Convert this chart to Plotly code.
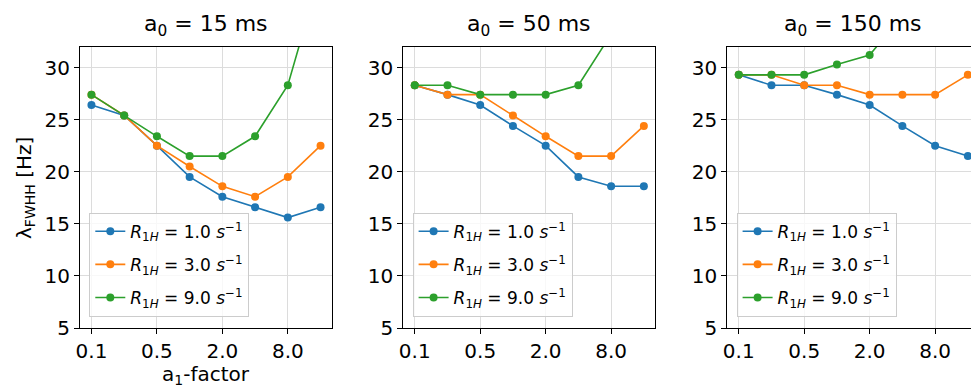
import math
import plotly.graph_objects as go

# ---------------- data ----------------
a1_factor = [0.125, 0.25, 0.5, 1.0, 2.0, 4.0, 8.0, 16.0]
tick_vals = [0.125, 0.5, 2.0, 8.0]
tick_text = ["0.1", "0.5", "2.0", "8.0"]
y_ticks = [5, 10, 15, 20, 25, 30]
a0_labels = ["15", "50", "150"]
r1h_labels = ["1.0", "3.0", "9.0"]

lw_15_r1 = [26.4, 25.4, 22.5, 19.5, 17.6, 16.6, 15.6, 16.6]
lw_15_r3 = [27.4, 25.4, 22.5, 20.5, 18.6, 17.6, 19.5, 22.5]
lw_15_r9 = [27.4, 25.4, 23.4, 21.5, 21.5, 23.4, 28.3, 39.2]
lw_50_r1 = [28.3, 27.4, 26.4, 24.4, 22.5, 19.5, 18.6, 18.6]
lw_50_r3 = [28.3, 27.4, 27.4, 25.4, 23.4, 21.5, 21.5, 24.4]
lw_50_r9 = [28.3, 28.3, 27.4, 27.4, 27.4, 28.3, 33.2, 41.0]
lw_150_r1 = [29.3, 28.3, 28.3, 27.4, 26.4, 24.4, 22.5, 21.5]
lw_150_r3 = [29.3, 29.3, 28.3, 28.3, 27.4, 27.4, 27.4, 29.3]
lw_150_r9 = [29.3, 29.3, 29.3, 30.3, 31.2, 35.0, 40.0, 46.0]

panels = [
    [lw_15_r1, lw_15_r3, lw_15_r9],
    [lw_50_r1, lw_50_r3, lw_50_r9],
    [lw_150_r1, lw_150_r3, lw_150_r9],
]
colors = ["#1f77b4", "#ff7f0e", "#2ca02c"]

# ---------------- layout geometry ----------------
W, H = 971, 390
FONT = "DejaVu Sans, Arial, sans-serif"
panel_left = [80, 403.3, 727.3]
panel_w = 252.0
top_px, bot_px = 46.7, 328.0
lo2, hi2 = -3.35, 4.35  # log2 extent of full axis

fig = go.Figure()
legend_names = ["legend", "legend2", "legend3"]

for p, series in enumerate(panels):
    ax = "" if p == 0 else str(p + 1)
    for s, vals in enumerate(series):
        fig.add_trace(go.Scatter(
            x=a1_factor, y=vals, mode="lines+markers",
            line=dict(color=colors[s], width=1.6),
            marker=dict(color=colors[s], size=8),
            name="<i>R</i><sub>1<i>H</i></sub> = %s <i>s</i><sup>\u22121</sup>" % r1h_labels[s],
            xaxis="x" + ax, yaxis="y" + ax,
            legend=legend_names[p],
            legendgroup="p%d_s%d" % (p, s),
            cliponaxis=True,
        ))

layout = dict(
    width=W, height=H,
    margin=dict(l=0, r=0, t=0, b=0),
    paper_bgcolor="white", plot_bgcolor="white",
    font=dict(family=FONT, size=20, color="black"),
    showlegend=True,
)

annotations = []
for p in range(3):
    ax = "" if p == 0 else str(p + 1)
    x0 = panel_left[p]
    x1 = min(x0 + panel_w, W)
    frac = (x1 - x0) / panel_w
    r_hi = lo2 + (hi2 - lo2) * frac
    layout["xaxis" + ax] = dict(
        domain=[x0 / W, x1 / W], anchor="y" + ax,
        type="log",
        range=[lo2 * math.log10(2), r_hi * math.log10(2)],
        tickvals=tick_vals, ticktext=tick_text,
        ticks="outside", ticklen=5, tickwidth=1, tickcolor="black",
        showline=True, linecolor="black", linewidth=1, mirror=True,
        showgrid=True, gridcolor="#dcdcdc", gridwidth=1,
        zeroline=False, automargin=False,
        tickfont=dict(size=20),
    )
    layout["yaxis" + ax] = dict(
        domain=[1 - bot_px / H, 1 - top_px / H], anchor="x" + ax,
        range=[5, 32],
        tickvals=y_ticks,
        ticks="outside", ticklen=5, tickwidth=1, tickcolor="black",
        showline=True, linecolor="black", linewidth=1,
        mirror=(p < 2),
        showgrid=True, gridcolor="#dcdcdc", gridwidth=1,
        zeroline=False, automargin=False,
        tickfont=dict(size=20),
    )
    layout[legend_names[p]] = dict(
        x=(x0 + 9.3) / W, y=1 - 212.7 / H, xanchor="left", yanchor="top",
        xref="paper", yref="paper",
        bgcolor="rgba(255,255,255,0.8)", bordercolor="#cccccc", borderwidth=1,
        font=dict(size=17, family=FONT),
        itemwidth=30, traceorder="grouped", tracegroupgap=8,
    )
    annotations.append(dict(
        x=(x0 + panel_w / 2) / W, y=1 - 26 / H, xref="paper", yref="paper",
        text="a<sub>0</sub> = %s ms" % a0_labels[p], showarrow=False,
        xanchor="center", yanchor="middle", font=dict(size=22),
    ))

annotations.append(dict(
    x=(panel_left[0] + panel_w / 2) / W, y=1 - 375 / H, xref="paper", yref="paper",
    text="a<sub>1</sub>-factor", showarrow=False,
    xanchor="center", yanchor="middle", font=dict(size=20),
))
annotations.append(dict(
    x=25 / W, y=1 - 188 / H, xref="paper", yref="paper",
    text="\u03bb<sub>FWHH</sub> [Hz]", showarrow=False, textangle=-90,
    xanchor="center", yanchor="middle", font=dict(size=20),
))
layout["annotations"] = annotations

fig.update_layout(**layout)
fig.write_html("out.html")
